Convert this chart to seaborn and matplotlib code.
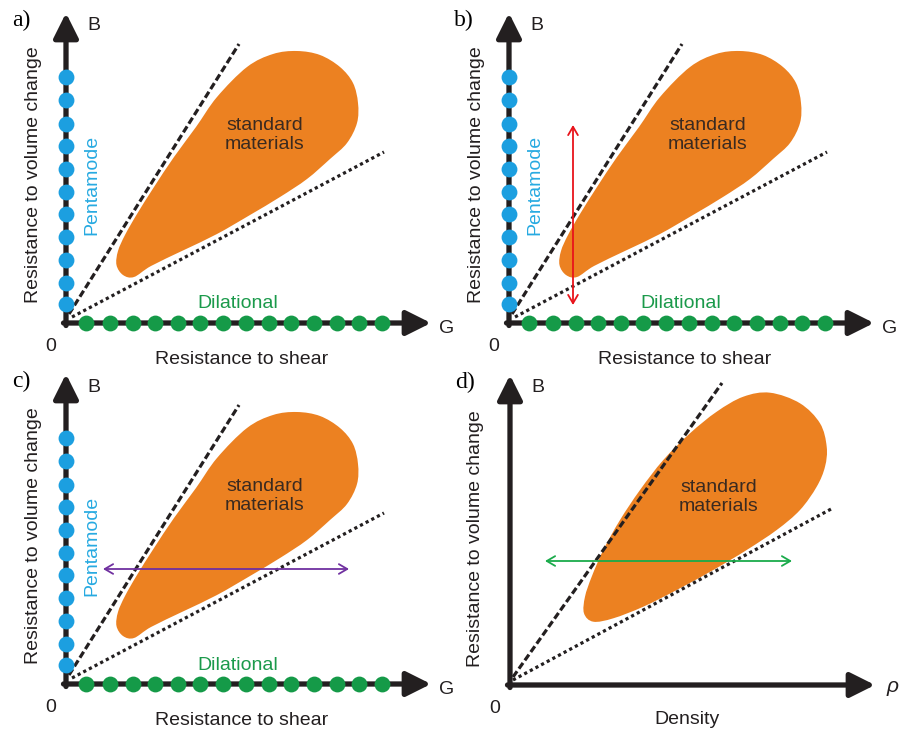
import numpy as np
import matplotlib.pyplot as plt
import seaborn as sns
from matplotlib.path import Path
from matplotlib.patches import PathPatch

sns.set_theme(style="white")
plt.rcParams['font.family'] = ['Liberation Sans', 'DejaVu Sans']

# ---- data (schematic units, origin of each panel = 0,0) ----
panel_tags = ["a)", "b)", "c)", "d)"]

pentamode_B = [18.7, 40, 63.4, 86, 109.4, 131, 154.4, 176.7, 199.4, 222.7, 246]
dilational_G = [20.3, 43.7, 67, 89.3, 112, 134.3, 157, 180, 202.7, 225.3,
                247.7, 271, 293.3, 316]

# outline of the "standard materials" region (panels a-c)
blob_G = [231, 254, 274, 287, 292, 291, 281, 264, 241, 214, 184, 151, 118,
          85, 68, 57, 50.5, 52, 59, 71, 88, 108, 130, 151, 181, 207]
blob_B = [272, 268, 256, 240, 220, 200, 180, 164, 144, 126, 108, 89, 73,
          57, 46, 48, 58, 72, 88, 109, 136, 166, 196, 226, 256, 269]

# outline in panel d (density axis)
blob_rho = [260, 290, 310, 316.7, 315, 306.7, 290, 266.7, 236.7, 203.3,
            166.7, 133.3, 103.3, 83.3, 74, 75, 81.7, 93.3, 110, 130, 153.3,
            180, 206.7, 233.3]
blob_rho_B = [292.3, 281.7, 261.7, 238.3, 218.3, 198.3, 175, 155, 135, 115,
              95, 78.3, 66.7, 63.3, 71.7, 88.3, 108.3, 135, 165, 195, 225,
              251.7, 273.3, 288.3]

# bounds (dashed = upper, dotted = lower)
upper_G, upper_B = [3, 173], [9, 279]
lower_G, lower_B = [6, 318], [6, 171]
upper_rho, upper_rho_B = [3, 212], [8, 302]
lower_rho, lower_rho_B = [3, 323], [5, 177]

# double arrows
arrow_b = ((64, 18), (64, 198))
arrow_c = ((37, 115), (283, 115))
arrow_d = ((35, 124), (282, 124))

# panel origins in output pixels
origins = [(66, 323), (509, 323), (66, 684), (510, 685)]

AX = "#231F20"
ORANGE = "#EC8121"
W, H = 899, 734


def smooth_path(xs, ys):
    p = np.column_stack([xs, ys]).astype(float)
    n = len(p)
    verts = [p[0]]
    codes = [Path.MOVETO]
    for i in range(n):
        p0, p1, p2, p3 = p[i - 1], p[i], p[(i + 1) % n], p[(i + 2) % n]
        verts += [p1 + (p2 - p0) / 6, p2 - (p3 - p1) / 6, p2]
        codes += [Path.CURVE4] * 3
    return Path(verts, codes)


def axis_arrow(ax, start, end):
    ax.annotate("", xy=end, xytext=start, annotation_clip=False,
                arrowprops=dict(arrowstyle="-|>,head_length=15,head_width=7.5",
                                mutation_scale=1, lw=3.8, color=AX,
                                shrinkA=0, shrinkB=0), zorder=3)


def double_arrow(ax, p0, p1, color):
    ax.annotate("", xy=p1, xytext=p0, annotation_clip=False,
                arrowprops=dict(arrowstyle="<->,head_length=6,head_width=3.5",
                                mutation_scale=1, lw=1.3, color=color,
                                shrinkA=0, shrinkB=0), zorder=6)


fig = plt.figure(figsize=(W / 100, H / 100), dpi=100)

for k, (ox, oy) in enumerate(origins):
    ax = fig.add_axes([(ox - 66) / W, (H - oy - 44) / H, 450 / W, 367 / H])
    ax.set_xlim(-66, 384)
    ax.set_ylim(-44, 323)
    ax.axis("off")
    ax.patch.set_alpha(0)

    if k < 3:
        bx, by = blob_G, blob_B
        ux, uy, lx, ly = upper_G, upper_B, lower_G, lower_B
        txt_c = (199, 188)
    else:
        bx, by = blob_rho, blob_rho_B
        ux, uy, lx, ly = upper_rho, upper_rho_B, lower_rho, lower_rho_B
        txt_c = (209, 188)

    ax.add_patch(PathPatch(smooth_path(bx, by), facecolor=ORANGE,
                           edgecolor="none", zorder=1))
    sns.lineplot(x=ux, y=uy, ax=ax, color=AX, lw=2.3,
                 linestyle=(0, (2.2, 1.0)), zorder=2)
    sns.lineplot(x=lx, y=ly, ax=ax, color=AX, lw=2.3,
                 linestyle=(0, (1.0, 1.0)), zorder=2)

    axis_arrow(ax, (0, -2.5), (0, 310))
    axis_arrow(ax, (-2.5, 0), (365, 0))

    if k < 3:
        sns.scatterplot(x=[0] * len(pentamode_B), y=pentamode_B, ax=ax,
                        color="#1C9FE0", s=130, linewidth=0, zorder=4)
        sns.scatterplot(x=dilational_G, y=[0] * len(dilational_G), ax=ax,
                        color="#159A48", s=130, linewidth=0, zorder=4)
        ax.text(26, 138, "Pentamode", rotation=90, color="#27AAE1",
                fontsize=14, ha="center", va="center")
        ax.text(172, 19, "Dilational", color="#1B9A4B", fontsize=14,
                ha="center", va="center")
        ax.text(381, -5.5, "G", color=AX, fontsize=14, ha="center", va="center")
        ax.text(176, -36.5, "Resistance to shear", color=AX, fontsize=14,
                ha="center", va="center")
        ax.text(-32.5, 148.5, "Resistance to volume change", rotation=90,
                color=AX, fontsize=14, ha="center", va="center")
    else:
        ax.text(383, -1.5, "ρ", color=AX, fontsize=15, style="italic",
                ha="center", va="center")
        ax.text(177, -35, "Density", color=AX, fontsize=14,
                ha="center", va="center")
        ax.text(-35, 146.5, "Resistance to volume change", rotation=90,
                color=AX, fontsize=14, ha="center", va="center")

    ax.text(27.5, 297, "B", color=AX, fontsize=14, ha="center", va="center")
    ax.text(-15.5, -23.5, "0", color=AX, fontsize=14, ha="center", va="center")
    ax.text(*txt_c, "standard\nmaterials", color="#3A2A20", fontsize=14,
            ha="center", va="center", linespacing=1.15, zorder=5)
    ax.text(-45, 303, panel_tags[k], color="black", fontsize=17,
            family="Liberation Serif", ha="center", va="center")

double_arrow(fig.axes[1], *arrow_b, "#E8141B")
double_arrow(fig.axes[2], *arrow_c, "#7030A0")
double_arrow(fig.axes[3], *arrow_d, "#1AAB4B")

fig.savefig("out.png", dpi=100)
